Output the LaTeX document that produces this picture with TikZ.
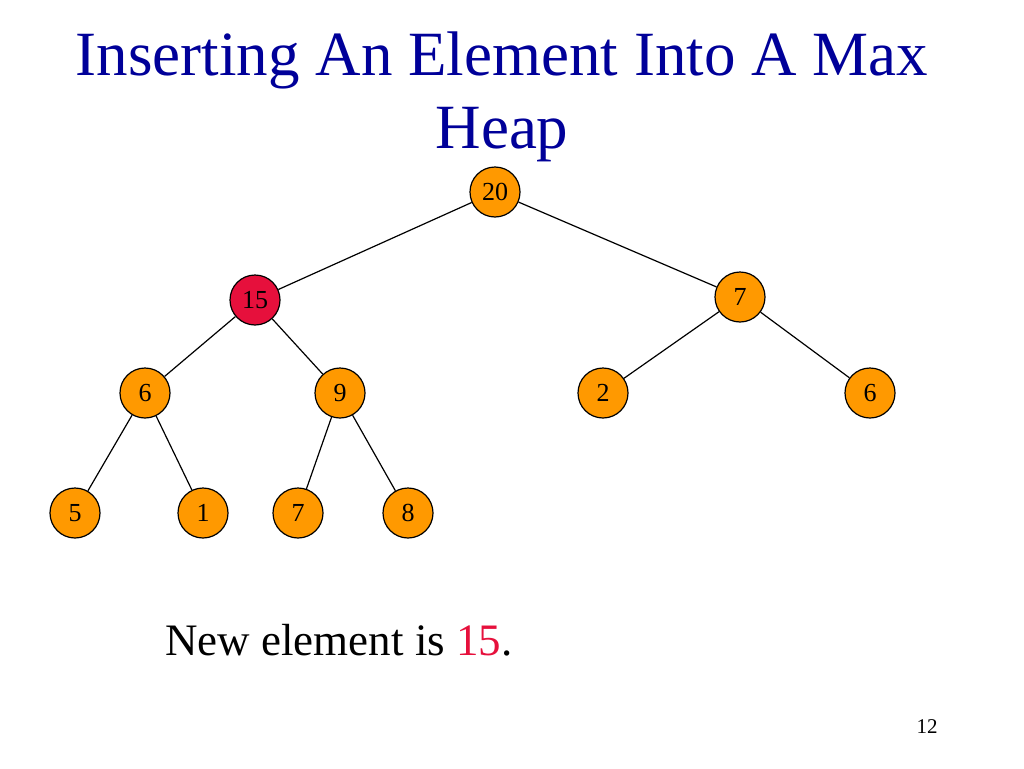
\documentclass[tikz,border=0pt]{standalone}
\usepackage{fontspec}
\setmainfont{Liberation Serif}
\usetikzlibrary{positioning}
\definecolor{heaporange}{HTML}{FF9900}
\definecolor{newred}{HTML}{E6103C}
\definecolor{titleblue}{HTML}{000099}

\begin{document}
\begin{tikzpicture}[x=1pt,y=-1pt,
  elem/.style={circle,draw,line width=1.2pt,fill=heaporange,minimum size=50pt,
               inner sep=0pt,font=\fontsize{26}{26}\selectfont},
  edge/.style={line width=1.2pt}
]
  \useasboundingbox (0,0) rectangle (1024,768);
  % Title
  \node[titleblue,align=center,anchor=base,font=\fontsize{63}{73}\selectfont] (title) at (502,148)
    {Inserting An Element Into A Max\\Heap};
  % Heap
  \node[elem] (n20) at (495,192) {20};
  \node[elem,fill=newred] (n15) at (255,300) {15};
  \node[elem] (n7a) at (740,297) {7};
  \node[elem] (n6a) at (145,393) {6};
  \node[elem] (n9) at (340,393) {9};
  \node[elem] (n2) at (603,393) {2};
  \node[elem] (n6b) at (870,393) {6};
  \node[elem] (n5) at (75,513) {5};
  \node[elem] (n1) at (203,513) {1};
  \node[elem] (n7b) at (298,513) {7};
  \node[elem] (n8) at (408,513) {8};
  % Edges
  \draw[edge] (n20) -- (n15);
  \draw[edge] (n20) -- (n7a);
  \draw[edge] (n15) -- (n6a);
  \draw[edge] (n15) -- (n9);
  \draw[edge] (n7a) -- (n2);
  \draw[edge] (n7a) -- (n6b);
  \draw[edge] (n6a) -- (n5);
  \draw[edge] (n6a) -- (n1);
  \draw[edge] (n9) -- (n7b);
  \draw[edge] (n9) -- (n8);
  % Caption
  \node[anchor=base west,inner sep=0pt,font=\fontsize{45}{45}\selectfont] (caption) at (165,655)
    {New element is \textcolor{newred}{15}.};
  \node[anchor=base,inner sep=0pt,font=\fontsize{21}{21}\selectfont] (page) at (927,733) {12};
\end{tikzpicture}
\end{document}
